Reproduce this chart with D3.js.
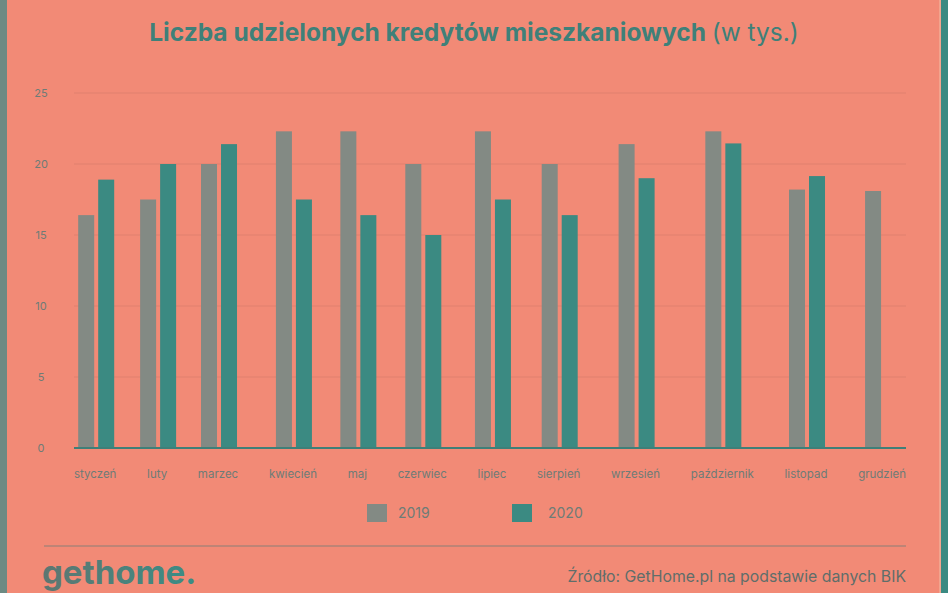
<!DOCTYPE html>
<html>
<head>
<meta charset="utf-8">
<script src="https://cdn.jsdelivr.net/npm/d3@7"></script>
<style>
  html, body { margin: 0; padding: 0; background: #f28a76; }
  svg { display: block; font-family: Inter, "Noto Sans", sans-serif; }
</style>
</head>
<body>
<script>
// months and values (thousands of loans)
const months = ["styczeń", "luty", "marzec", "kwiecień", "maj", "czerwiec",
    "lipiec", "sierpień", "wrzesień", "październik", "listopad", "grudzień"];
const years = ["2019", "2020"];
const values2019 = [16.4, 17.5, 20.0, 22.3, 22.3, 20.0, 22.3, 20.0, 21.4, 22.3, 18.2, 18.1];
const values2020 = [18.9, 20.0, 21.4, 17.5, 16.4, 15.0, 17.5, 16.4, 19.0, 21.45, 19.15, null];
const yTicks = [0, 5, 10, 15, 20, 25];

const chartInfo = {
    WIDTH: 948,
    HEIGHT: 593,
    LEFT: 74,
    RIGHT: 906,
    TOP: 93,
    BOTTOM: 448,
};
const colors = {
    "2019": "#838a84",
    "2020": "#3b8a82",
    text: "#6e7c77",
    title: "#3f8079",
    grid: "#e0806e",
    axis: "#3f7f78",
};

window.onload = initPage;

function initPage() {
    const svg = d3.select("body")
        .append("svg")
        .attr("width", chartInfo.WIDTH)
        .attr("height", chartInfo.HEIGHT);
    drawFrame(svg);
    drawTitle(svg);
    drawChart(svg);
    drawLegend(svg);
    drawFooter(svg);
}

function drawFrame(svg) {
    svg.append("rect").attr("x", 0).attr("y", 0)
        .attr("width", chartInfo.WIDTH).attr("height", chartInfo.HEIGHT)
        .attr("fill", "#f28a76");
    svg.append("rect").attr("x", 0).attr("y", 0)
        .attr("width", 7).attr("height", chartInfo.HEIGHT)
        .attr("fill", "#6d8a83");
    svg.append("rect").attr("x", 941).attr("y", 0)
        .attr("width", 7).attr("height", chartInfo.HEIGHT)
        .attr("fill", "#3a8a82");
    svg.append("rect").attr("x", 939).attr("y", 0)
        .attr("width", 2).attr("height", chartInfo.HEIGHT)
        .attr("fill", "#f2a48e");
}

function drawTitle(svg) {
    const title = svg.append("text")
        .attr("x", chartInfo.WIDTH / 2)
        .attr("y", 41)
        .attr("text-anchor", "middle")
        .attr("font-size", 24.5)
        .attr("fill", colors.title);
    title.append("tspan").attr("font-weight", 700)
        .text("Liczba udzielonych kredytów mieszkaniowych ");
    title.append("tspan").attr("font-weight", 400)
        .text("(w tys.)");
}

function drawChart(svg) {
    const y = d3.scaleLinear()
        .domain([0, 25])
        .range([chartInfo.BOTTOM, chartInfo.TOP]);

    // gridlines
    svg.append("g")
        .selectAll("line")
        .data(yTicks.filter((t) => t > 0))
        .enter()
        .append("line")
        .attr("x1", chartInfo.LEFT)
        .attr("x2", chartInfo.RIGHT)
        .attr("y1", (d) => y(d))
        .attr("y2", (d) => y(d))
        .attr("stroke", colors.grid)
        .attr("stroke-width", 1);

    // y tick labels
    svg.append("g")
        .selectAll("text")
        .data(yTicks)
        .enter()
        .append("text")
        .attr("x", 41)
        .attr("y", (d) => y(d) + 4)
        .attr("text-anchor", "middle")
        .attr("font-size", 11)
        .attr("fill", colors.text)
        .text((d) => d);

    // month labels laid out with an equal gap between them (like the source)
    const labelGroup = svg.append("g");
    const labels = labelGroup.selectAll("text")
        .data(months)
        .enter()
        .append("text")
        .attr("y", 478)
        .attr("font-size", 11.5)
        .attr("fill", colors.text)
        .text((d) => d);
    const widths = [];
    labels.each(function () { widths.push(this.getComputedTextLength()); });
    const gap = (chartInfo.RIGHT - chartInfo.LEFT - d3.sum(widths)) / (months.length - 1);
    const centers = [];
    let cursor = chartInfo.LEFT;
    widths.forEach((w) => {
        centers.push(cursor + w / 2);
        cursor += w + gap;
    });
    const x0 = d3.scaleOrdinal().domain(months).range(centers);
    labels.attr("x", (d) => x0(d)).attr("text-anchor", "middle");

    const x1 = d3.scaleBand()
        .domain(years)
        .range([-17, 19])
        .paddingInner(0.2);

    const data = months.map((m, i) => ({
        month: m,
        values: [
            { year: "2019", value: values2019[i] },
            { year: "2020", value: values2020[i] },
        ].filter((v) => v.value !== null),
    }));

    svg.append("g")
        .selectAll("g")
        .data(data)
        .enter()
        .append("g")
        .attr("transform", (d) => `translate(${x0(d.month)},0)`)
        .selectAll("rect")
        .data((d) => d.values)
        .enter()
        .append("rect")
        .attr("x", (d) => x1(d.year))
        .attr("y", (d) => y(d.value))
        .attr("width", x1.bandwidth())
        .attr("height", (d) => y(0) - y(d.value))
        .attr("fill", (d) => colors[d.year]);

    // baseline
    svg.append("line")
        .attr("x1", chartInfo.LEFT)
        .attr("x2", chartInfo.RIGHT)
        .attr("y1", y(0))
        .attr("y2", y(0))
        .attr("stroke", colors.axis)
        .attr("stroke-width", 2);
}

function drawLegend(svg) {
    const legendX = d3.scaleOrdinal().domain(years).range([367, 512]);
    const items = svg.append("g")
        .selectAll("g")
        .data(years)
        .enter()
        .append("g")
        .attr("transform", (d) => `translate(${legendX(d)},504)`);
    items.append("rect")
        .attr("width", 20)
        .attr("height", 18)
        .attr("fill", (d) => colors[d]);
    items.append("text")
        .attr("x", (d) => (d === "2019" ? 31 : 36))
        .attr("y", 14)
        .attr("font-size", 14)
        .attr("fill", colors.text)
        .text((d) => d);
}

function drawFooter(svg) {
    svg.append("line")
        .attr("x1", 44)
        .attr("x2", chartInfo.RIGHT)
        .attr("y1", 546)
        .attr("y2", 546)
        .attr("stroke", "#8a7f76")
        .attr("stroke-width", 1);

    const grad = svg.append("defs")
        .append("linearGradient")
        .attr("id", "logoGrad")
        .attr("x1", "0%").attr("x2", "100%");
    grad.append("stop").attr("offset", "0%").attr("stop-color", "#5e7671");
    grad.append("stop").attr("offset", "100%").attr("stop-color", "#3a8d86");

    svg.append("text")
        .attr("x", 42)
        .attr("y", 584)
        .attr("font-size", 33)
        .attr("font-weight", 700)
        .attr("fill", "url(#logoGrad)")
        .text("gethome.");

    svg.append("text")
        .attr("x", chartInfo.RIGHT)
        .attr("y", 582)
        .attr("text-anchor", "end")
        .attr("font-size", 15.8)
        .attr("fill", "#5f6e6a")
        .text("Źródło: GetHome.pl na podstawie danych BIK");
}
</script>
</body>
</html>
